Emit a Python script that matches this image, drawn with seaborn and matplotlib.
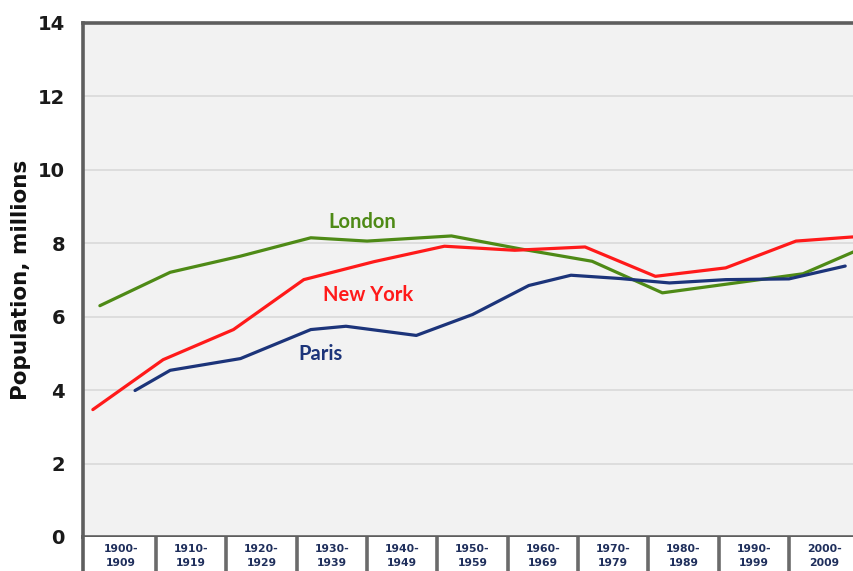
import matplotlib
matplotlib.use("Agg")
import matplotlib.pyplot as plt
import seaborn as sns
import pandas as pd

# ---- data ----
ny_years = [1900, 1910, 1920, 1930, 1940, 1950, 1960, 1970, 1980, 1990, 2000, 2010]
ny_pop = [3.47, 4.83, 5.65, 7.01, 7.50, 7.92, 7.81, 7.90, 7.10, 7.33, 8.06, 8.20]

london_years = [1901, 1911, 1921, 1931, 1939, 1951, 1961, 1971, 1981, 1991, 2001, 2011]
london_pop = [6.30, 7.21, 7.65, 8.15, 8.06, 8.20, 7.84, 7.51, 6.65, 6.91, 7.17, 8.00]

paris_years = [1906, 1911, 1921, 1931, 1936, 1946, 1954, 1962, 1968, 1975, 1982, 1990, 1999, 2007]
paris_pop = [3.99, 4.54, 4.86, 5.65, 5.74, 5.49, 6.06, 6.85, 7.13, 7.04, 6.92, 7.01, 7.03, 7.38]

decades = [1900, 1910, 1920, 1930, 1940, 1950, 1960, 1970, 1980, 1990, 2000]
decade_labels = [f"{d}-\n{d + 9}" for d in decades]
y_ticks = [0, 2, 4, 6, 8, 10, 12, 14]

cities = ["London", "New York", "Paris"]
colors = {"London": "#4E8A16", "New York": "#FF1A1A", "Paris": "#1C347A"}
label_pos = {"London": (1938.3, 8.57), "New York": (1939.1, 6.60), "Paris": (1932.4, 4.99)}

df = pd.concat([
    pd.DataFrame({"year": london_years, "pop": london_pop, "city": "London"}),
    pd.DataFrame({"year": ny_years, "pop": ny_pop, "city": "New York"}),
    pd.DataFrame({"year": paris_years, "pop": paris_pop, "city": "Paris"}),
], ignore_index=True)

sns.set_style("white")
plt.rcParams["font.family"] = ["DejaVu Sans"]

W, H = 854, 571
fig = plt.figure(figsize=(W / 100, H / 100), dpi=100)
left = 83 / W
ax = fig.add_axes([left, 1 - 537 / H, 1 - left, (537 - 23) / H])
axb = fig.add_axes([left, 0, 1 - left, (571 - 537) / H], sharex=ax)

ax.set_facecolor("#F2F2F2")
ax.set_ylim(0, 14)
ax.set_xlim(1898.6, 2008.25)
ax.set_yticks(y_ticks)
for v in y_ticks[1:-1]:
    ax.axhline(v, color="#D9D9D9", lw=1.2, zorder=0)

sns.lineplot(data=df, x="year", y="pop", hue="city", palette=colors,
             hue_order=cities, estimator=None, sort=True, lw=2.3,
             legend=False, ax=ax, zorder=3)

for c in cities:
    x, y = label_pos[c]
    ax.text(x, y, c, color=colors[c], fontsize=14.5, fontweight="bold",
            family=["Lato", "DejaVu Sans"], ha="center", va="center", zorder=4)

for s in ["top", "left", "bottom"]:
    ax.spines[s].set_color("#5E5E5E")
    ax.spines[s].set_linewidth(2.6)
ax.spines["right"].set_visible(False)
ax.tick_params(axis="y", length=0, pad=13, labelsize=14, labelcolor="#1A1A1A")
for t in ax.get_yticklabels():
    t.set_fontweight("bold")
ax.tick_params(axis="x", bottom=False, labelbottom=False)
ax.set_xlabel("")
ax.set_ylabel("Population, millions", fontsize=15.5, fontweight="bold",
              color="#111111", labelpad=5)

# category boxes below the plot
axb.set_facecolor("white")
axb.set_ylim(0, 1)
for s in ["top", "right", "bottom"]:
    axb.spines[s].set_visible(False)
axb.spines["left"].set_color("#5E5E5E")
axb.spines["left"].set_linewidth(2.6)
axb.set_yticks([])
axb.tick_params(axis="x", bottom=False, labelbottom=False)
for d, lab in zip(decades, decade_labels):
    axb.axvline(d + 9, color="#6B6B6B", lw=2.6)
    axb.text(d + 4, 0.44, lab, ha="center", va="center", fontsize=7.8,
             fontweight="bold", color="#1F2F5C", linespacing=1.45)

fig.savefig("out.png", dpi=100)
